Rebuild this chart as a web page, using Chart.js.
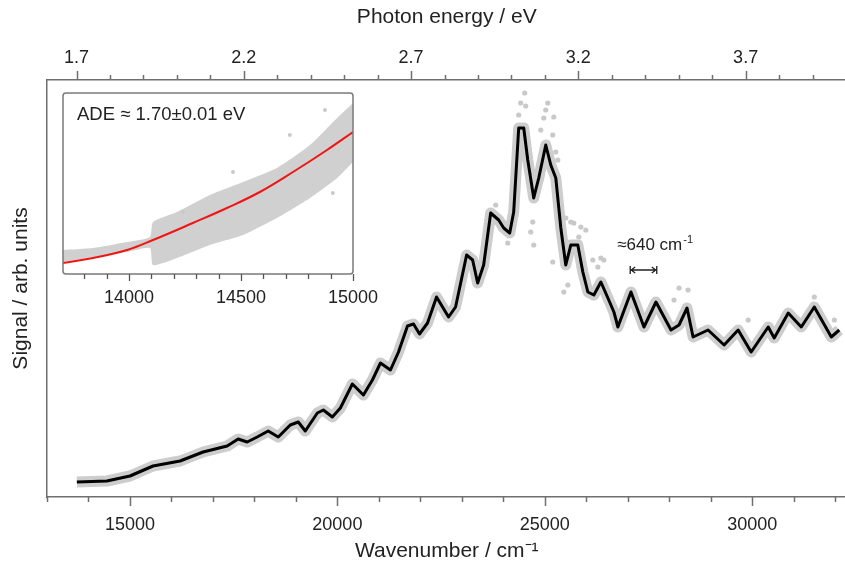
<!DOCTYPE html>
<html><head><meta charset="utf-8">
<script src="https://cdn.jsdelivr.net/npm/chart.js@4.4.0/dist/chart.umd.min.js"></script>
<style>
html,body{margin:0;padding:0;background:#fff;}
#wrap{position:relative;width:845px;height:569px;overflow:hidden;}
#main{position:absolute;left:0;top:0;}
#inset{position:absolute;left:40px;top:80px;}
</style></head><body>
<div id="wrap"><canvas id="main" width="857" height="569"></canvas><canvas id="inset" width="360" height="250"></canvas></div>
<script>
// ---------- data ----------
const wavenumbers = [13720,14444,15000,15556,16208,16763,17343,17609,17826,18068,18333,18575,18865,19058,19227,19517,19662,19879,20073,20362,20628,20845,21039,21280,21474,21691,21836,21981,22174,22391,22536,22681,22850,23116,23261,23382,23527,23696,23889,24010,24155,24251,24372,24493,24590,24734,24855,25024,25145,25266,25387,25507,25628,25797,25918,26039,26184,26353,26522,26667,26763,27078,27392,27681,28044,28237,28430,28575,28937,29324,29662,29976,30387,30532,30870,31184,31498,31908,32101];
const signal = [15,16,21,31,36,45,51,58,55,60,66,60,72,75,66,84,87,80,89,113,102,117,134,127,145,171,173,163,174,200,190,180,190,242,237,214,232,284,277,269,264,285,369,369,337,299,319,352,332,319,269,232,252,252,225,205,202,215,199,185,170,205,170,195,167,172,189,160,167,152,167,145,170,159,184,170,190,160,167];
const scatterWavenumbers = [24517,24420,24541,24372,25073,25024,24976,25217,24903,25193,25266,25314,24710,24662,24734,25193,25700,25870,25821,26159,26280,23817,24107,25556,25459,26353,26425,28237,28454,28116,31498,31981,29904,25507,25628,25990];
const scatterSignal = [404,394,391,382,394,387,379,380,367,362,345,337,275,265,252,235,274,270,260,237,230,292,254,212,205,239,237,209,207,197,200,177,177,279,275,267];

const insetBandWavenumbers = [13705,13839,13991,14093,14107,14214,14361,14509,14660,14808,14929,15000];
const insetBandLow  = [12,17,22,26,9,16,29,39,56,76,96,112];
const insetBandHigh = [24,26,32,37,52,62,79,92,106,129,156,171];
const insetFitWavenumbers = [13705,13839,13991,14107,14285,14437,14584,14732,14884,15000];
const insetFit = [11,16,24,34,51,66,82,102,124,142];
const insetOutlierWavenumbers = [14718,14464,14910,14241,14875];
const insetOutlierSignal = [139,102,81,62,164];

const bottomTickLabels = [15000,20000,25000,30000];
const topTickLabels = [1.7,2.2,2.7,3.2,3.7];
const insetTickLabels = [14000,14500,15000];
const CM_PER_EV = 8065.54;

// ---------- helpers ----------
const FONT = '"Liberation Sans", Arial, Helvetica, sans-serif';
Chart.defaults.font.family = FONT;
const pts = (xs, ys) => xs.map((x, i) => ({x, y: ys[i]}));
const XMIN = 13000, XMAX = 32275;

const tickPlugin = {
  id: 'ticks',
  afterDraw(chart) {
    const ctx = chart.ctx, ca = chart.chartArea;
    const xs = chart.scales.x, xt = chart.scales.x2;
    ctx.save();
    ctx.strokeStyle = '#6f6f6f';
    ctx.lineWidth = 1.5;
    for (let v = 13000; v <= 32000; v += 1000) {
      const p = Math.round(xs.getPixelForValue(v)) + 0.5;
      const len = v % 5000 === 0 ? 9 : 5;
      ctx.beginPath(); ctx.moveTo(p, ca.bottom); ctx.lineTo(p, ca.bottom + len); ctx.stroke();
    }
    for (let i = 17; i <= 40; i++) {
      const v = i / 10;
      const p = Math.round(xt.getPixelForValue(v)) + 0.5;
      const len = (i - 17) % 5 === 0 ? 9 : 5;
      ctx.beginPath(); ctx.moveTo(p, ca.top); ctx.lineTo(p, ca.top - len); ctx.stroke();
    }
    // annotation
    const ys = chart.scales.y;
    ctx.fillStyle = '#222';
    ctx.textBaseline = 'middle';
    ctx.textAlign = 'left';
    const tx = xs.getPixelForValue(26745), ty = ys.getPixelForValue(252);
    ctx.font = '17px ' + FONT;
    const t = '\u2248640 cm';
    ctx.fillText(t, tx, ty);
    const w = ctx.measureText(t).width;
    ctx.font = '11px ' + FONT;
    ctx.fillText('-1', tx + w + 1, ty - 5);
    const ax1 = xs.getPixelForValue(27060), ax2 = xs.getPixelForValue(27700), ay = ys.getPixelForValue(227);
    ctx.strokeStyle = '#222'; ctx.lineWidth = 1.3;
    ctx.beginPath();
    ctx.moveTo(ax1, ay - 4); ctx.lineTo(ax1, ay + 4);
    ctx.moveTo(ax2, ay - 4); ctx.lineTo(ax2, ay + 4);
    ctx.moveTo(ax1, ay); ctx.lineTo(ax2, ay);
    ctx.moveTo(ax1 + 5, ay - 3); ctx.lineTo(ax1 + 1, ay); ctx.lineTo(ax1 + 5, ay + 3);
    ctx.moveTo(ax2 - 5, ay - 3); ctx.lineTo(ax2 - 1, ay); ctx.lineTo(ax2 - 5, ay + 3);
    ctx.stroke();
    ctx.restore();
  }
};

new Chart(document.getElementById('main'), {
  type: 'line',
  data: {
    datasets: [
      {data: pts(wavenumbers, signal), borderColor: '#000', borderWidth: 3, pointRadius: 0, tension: 0, order: 0, borderJoinStyle: 'round'},
      {data: pts(scatterWavenumbers, scatterSignal), showLine: false, pointRadius: 2.6, pointBackgroundColor: '#c9c9c9', pointBorderWidth: 0, order: 1},
      {data: pts(wavenumbers, signal), borderColor: '#cdcdcd', borderWidth: 11, pointRadius: 0, tension: 0, order: 2, borderJoinStyle: 'round'}
    ]
  },
  options: {
    responsive: false, animation: false, devicePixelRatio: 1,
    layout: {padding: 0},
    plugins: {legend: {display: false}, tooltip: {enabled: false}},
    scales: {
      x: {
        type: 'linear', position: 'bottom', min: XMIN, max: XMAX,
        afterFit: s => { s.height = 72; },
        afterBuildTicks: s => { const t = []; for (let v = 13000; v <= 32000; v += 1000) t.push({value: v}); s.ticks = t; },
        ticks: {autoSkip: false, maxRotation: 0, padding: 17, color: '#222', font: {size: 18},
          callback: v => bottomTickLabels.includes(v) ? String(v) : ''},
        grid: {display: false, drawTicks: false},
        border: {display: true, color: '#6f6f6f', width: 1.5},
        title: {display: true, text: 'Wavenumber / cm\u207B\u00B9', color: '#222', font: {size: 21}, padding: {top: 0, bottom: 5}}
      },
      x2: {
        type: 'linear', position: 'top', min: XMIN / CM_PER_EV, max: XMAX / CM_PER_EV,
        afterFit: s => { s.height = 80; },
        afterBuildTicks: s => { const t = []; for (let i = 17; i <= 40; i++) t.push({value: i / 10}); s.ticks = t; },
        ticks: {autoSkip: false, maxRotation: 0, padding: 11, color: '#222', font: {size: 18},
          callback: v => topTickLabels.some(t => Math.abs(t - v) < 1e-6) ? v.toFixed(1) : ''},
        grid: {display: false, drawTicks: false},
        border: {display: true, color: '#6f6f6f', width: 1.5},
        title: {display: true, text: 'Photon energy / eV', color: '#222', font: {size: 21}, padding: {top: 5, bottom: 0}}
      },
      y: {
        type: 'linear', position: 'left', min: 0, max: 417,
        afterFit: s => { s.width = 47; },
        ticks: {display: false},
        grid: {display: false, drawTicks: false},
        border: {display: true, color: '#6f6f6f', width: 1.5},
        title: {display: true, text: 'Signal / arb. units', color: '#222', font: {size: 21}, padding: {top: 9, bottom: 0}}
      }
    }
  },
  plugins: [tickPlugin]
});

// ---------- inset ----------
const insetPlugin = {
  id: 'insetDeco',
  beforeDatasetsDraw(chart) {
    const ctx = chart.ctx, ca = chart.chartArea;
    ctx.save(); ctx.fillStyle = '#fff';
    ctx.fillRect(ca.left, ca.top, ca.width, ca.height);
    ctx.restore();
  },
  afterDraw(chart) {
    const ctx = chart.ctx, ca = chart.chartArea, xs = chart.scales.x;
    ctx.save();
    ctx.strokeStyle = '#7a7a7a'; ctx.lineWidth = 1.5;
    ctx.beginPath();
    ctx.roundRect(ca.left, ca.top, ca.width, ca.height, 3);
    ctx.stroke();
    ctx.lineWidth = 1.3; ctx.strokeStyle = '#555';
    for (let v = 13800; v <= 15000; v += 100) {
      const p = Math.round(xs.getPixelForValue(v)) + 0.5;
      const len = v % 500 === 0 ? 7 : 5;
      ctx.beginPath(); ctx.moveTo(p, ca.bottom); ctx.lineTo(p, ca.bottom + len); ctx.stroke();
    }
    ctx.fillStyle = '#222'; ctx.font = '18.5px ' + FONT;
    ctx.textBaseline = 'middle'; ctx.textAlign = 'left';
    ctx.fillText('ADE \u2248 1.70\u00B10.01 eV', ca.left + 14, ca.top + 22);
    ctx.restore();
  }
};

new Chart(document.getElementById('inset'), {
  type: 'line',
  data: {
    datasets: [
      {data: pts(insetFitWavenumbers, insetFit), borderColor: '#f01414', borderWidth: 2, pointRadius: 0, tension: 0.4, order: 0},
      {data: pts(insetOutlierWavenumbers, insetOutlierSignal), showLine: false, pointRadius: 2, pointBackgroundColor: '#c9c9c9', pointBorderWidth: 0, order: 1},
      {data: pts(insetBandWavenumbers, insetBandLow), borderWidth: 0, borderColor: 'rgba(0,0,0,0)', pointRadius: 0, tension: 0.2, order: 3},
      {data: pts(insetBandWavenumbers, insetBandHigh), borderWidth: 0, borderColor: 'rgba(0,0,0,0)', pointRadius: 0, tension: 0.2, fill: '-1', backgroundColor: '#d0d0d0', order: 2}
    ]
  },
  options: {
    responsive: false, animation: false, devicePixelRatio: 1,
    layout: {padding: {left: 23, top: 13, right: 47, bottom: 0}},
    plugins: {legend: {display: false}, tooltip: {enabled: false}, filler: {propagate: false}},
    scales: {
      x: {
        type: 'linear', min: 13705, max: 15000,
        afterFit: s => { s.height = 56; },
        afterBuildTicks: s => { const t = []; for (let v = 13800; v <= 15000; v += 100) t.push({value: v}); s.ticks = t; },
        ticks: {autoSkip: false, maxRotation: 0, padding: 13, color: '#222', font: {size: 18},
          callback: v => insetTickLabels.includes(v) ? String(v) : ''},
        grid: {display: false, drawTicks: false},
        border: {display: false}
      },
      y: {display: false, min: 0, max: 181}
    }
  },
  plugins: [insetPlugin]
});
</script>
</body></html>
